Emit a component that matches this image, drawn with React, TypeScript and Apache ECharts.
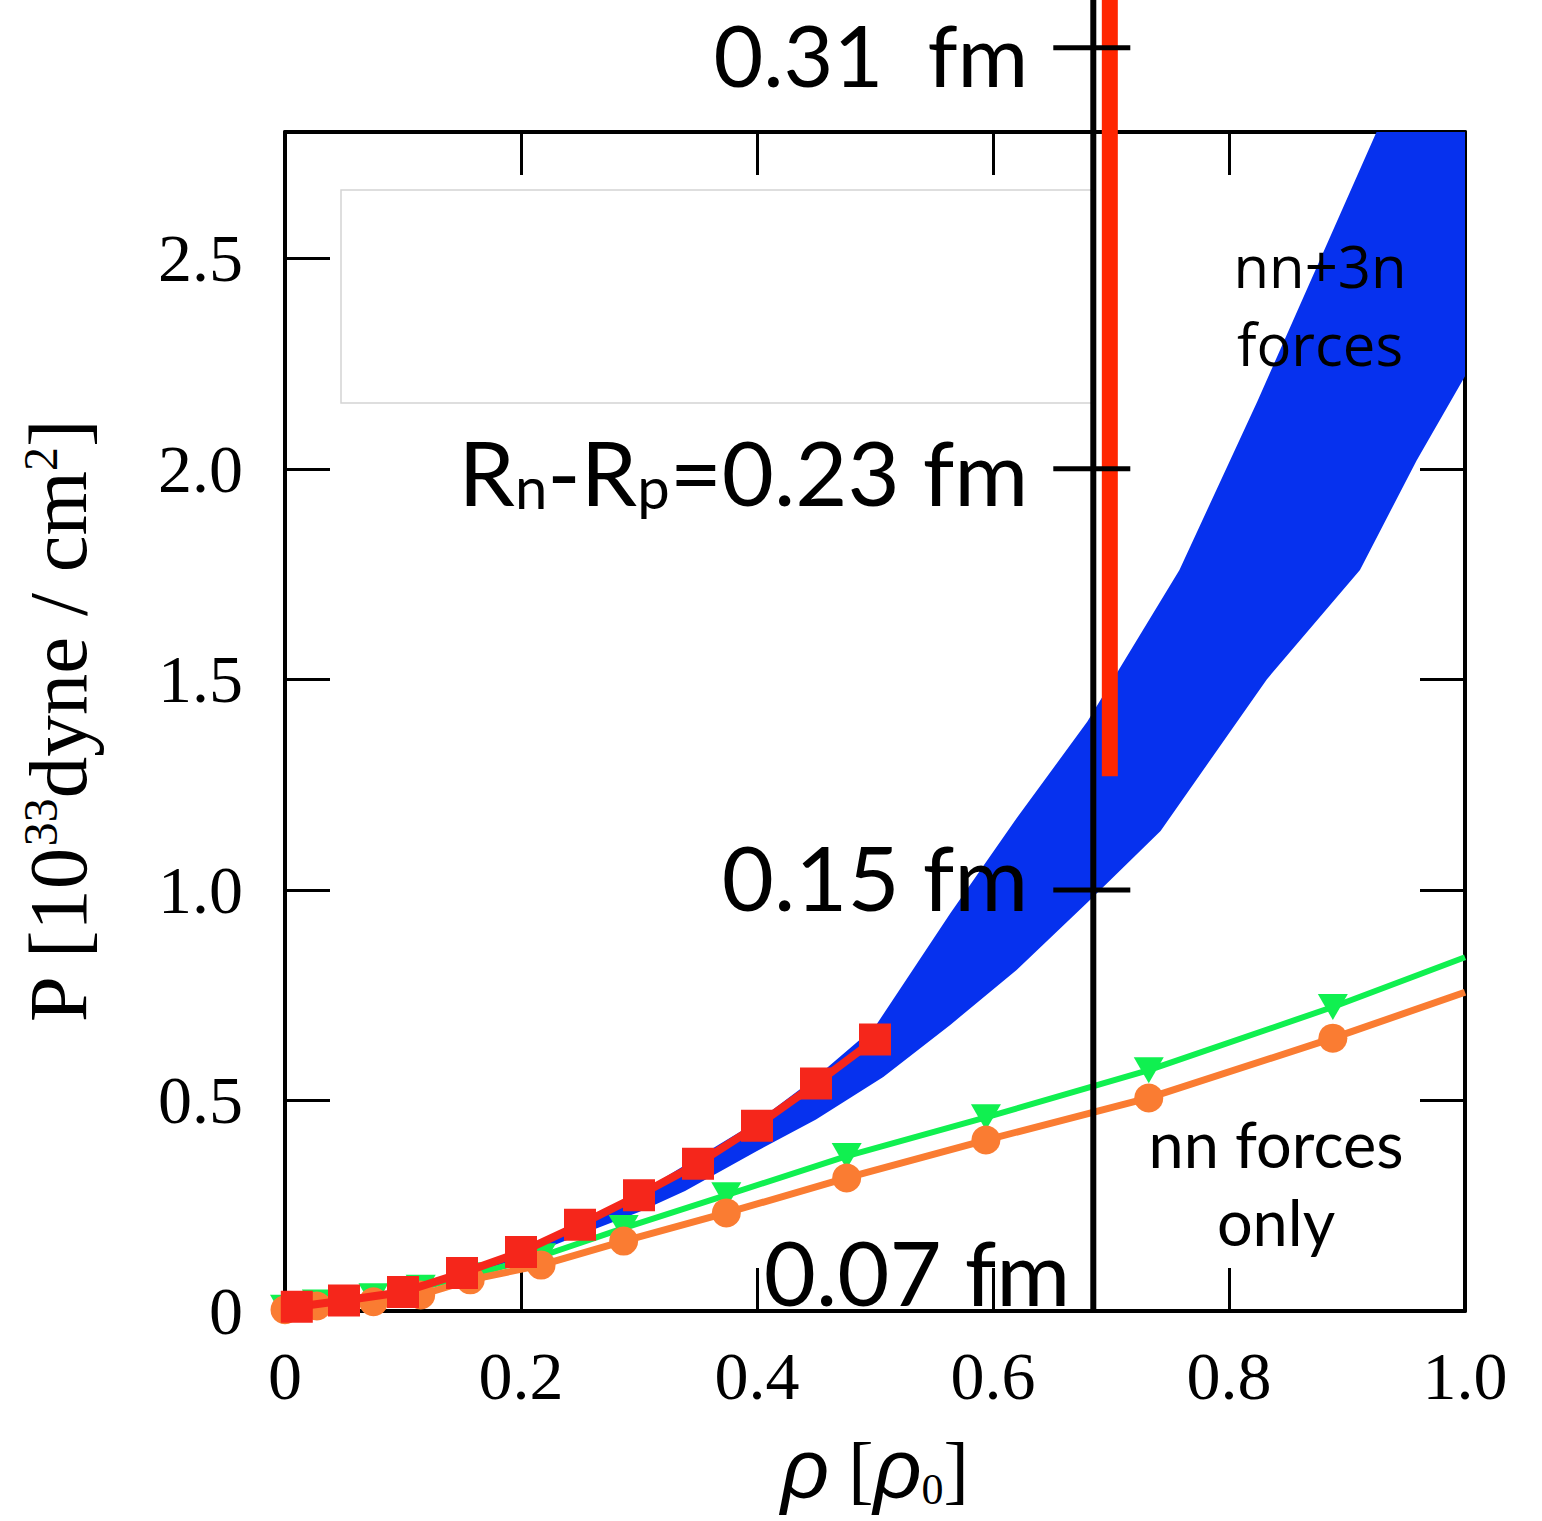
import React, { useEffect, useRef } from "react";
import * as echarts from "echarts";

// ---------- data ----------
const rhoTicks = [0, 0.2, 0.4, 0.6, 0.8, 1.0];
const pTicks = [0, 0.5, 1.0, 1.5, 2.0, 2.5];

// nn+3n band (chiral EFT uncertainty band)
const bandUpperRho = [0, 0.1, 0.2, 0.3, 0.4, 0.45, 0.5, 0.564, 0.62, 0.68, 0.758, 0.824, 0.925, 1.0];
const bandUpperP = [0, 0.045, 0.145, 0.28, 0.45, 0.555, 0.675, 0.945, 1.17, 1.4, 1.76, 2.16, 2.8, 3.27];
const bandLowerRho = [0, 0.1, 0.2, 0.254, 0.3, 0.339, 0.4, 0.45, 0.507, 0.564, 0.62, 0.68, 0.742, 0.832, 0.911, 0.959, 1.0];
const bandLowerP = [0, 0.04, 0.125, 0.185, 0.235, 0.285, 0.38, 0.455, 0.556, 0.68, 0.81, 0.97, 1.14, 1.5, 1.76, 2.02, 2.22];

// red squares
const redRho = [0.01, 0.05, 0.1, 0.15, 0.2, 0.25, 0.3, 0.35, 0.4, 0.45, 0.5];
const redP = [0.01, 0.025, 0.045, 0.09, 0.14, 0.205, 0.275, 0.35, 0.44, 0.54, 0.645];

// nn forces only (green triangles, orange circles)
const nnRho = [0.0, 0.027, 0.075, 0.115, 0.157, 0.217, 0.287, 0.374, 0.476, 0.594, 0.732, 0.888, 1.0];
const greenP = [0.008, 0.02, 0.035, 0.055, 0.085, 0.13, 0.197, 0.275, 0.368, 0.46, 0.572, 0.722, 0.84];
const orangeP = [0.003, 0.012, 0.022, 0.038, 0.074, 0.109, 0.166, 0.233, 0.316, 0.406, 0.506, 0.648, 0.757];

// Rn-Rp scale drawn on the vertical line
const scaleRho = 0.685;
const barRho = 0.699;
const barBottomP = 1.27;
const scaleTickP = [3, 2, 1];
const scaleTickLabels = ["0.31", "0.23", "0.15"];
const scaleBottomLabel = "0.07";

const BLUE = "#0631EE";
const RED = "#F5261B";
const ORANGE = "#FA7C32";
const GREEN = "#10F050";
const BAR = "#FF2600";

const near = (a: number[], v: number) => a.some((t) => Math.abs(t - v) < 1e-6);

export default function App() {
  const ref = useRef<HTMLDivElement>(null);
  useEffect(() => {
    if (!ref.current) return;
    const chart = echarts.init(ref.current, null, { renderer: "svg" });
    const last = nnRho.length - 1;
    const serifTick = { fontFamily: "Liberation Serif", fontSize: 68, color: "#000" };
    const labelFont = "Lato";

    const option: any = {
      animation: false,
      backgroundColor: "#fff",
      grid: { left: 285, top: 132, width: 1180, height: 1179, containLabel: false, outerBoundsMode: "none" },
      xAxis: [
        {
          type: "value", min: 0, max: 1, interval: 0.2, position: "bottom",
          axisLine: { show: true, onZero: false, lineStyle: { color: "#000", width: 4 } },
          axisTick: { show: true, inside: true, length: 43, lineStyle: { color: "#000", width: 3 } },
          axisLabel: {
            ...serifTick, margin: 31,
            formatter: (v: number) => (near(rhoTicks, v) ? (v === 0 ? "0" : v.toFixed(1)) : ""),
          },
          splitLine: { show: false },
          name: "{r|ρ} [{r|ρ}{s|0}]",
          nameLocation: "middle",
          nameGap: 116,
          nameTextStyle: {
            fontFamily: "Liberation Serif", fontSize: 76, color: "#000",
            rich: {
              r: { fontFamily: "Liberation Sans", fontStyle: "italic", fontSize: 84, color: "#000" },
              s: { fontFamily: "Liberation Serif", fontSize: 44, color: "#000", verticalAlign: "bottom" },
            },
          },
        },
        {
          type: "value", min: 0, max: 1, interval: 0.2, position: "top",
          axisLine: { show: true, onZero: false, lineStyle: { color: "#000", width: 4 } },
          axisTick: { show: true, inside: true, length: 43, lineStyle: { color: "#000", width: 3 } },
          axisLabel: { show: false },
          splitLine: { show: false },
        },
      ],
      yAxis: [
        {
          type: "value", min: 0, max: 2.8, interval: 0.5, position: "left",
          axisLine: { show: true, onZero: false, lineStyle: { color: "#000", width: 4 } },
          axisTick: { show: true, inside: true, length: 45, lineStyle: { color: "#000", width: 3 } },
          axisLabel: {
            ...serifTick, margin: 42,
            formatter: (v: number) => (near(pTicks, v) ? (v === 0 ? "0" : v.toFixed(1)) : ""),
          },
          splitLine: { show: false },
          name: "P [10{sup|33}dyne / cm{sup|2}]",
          nameLocation: "middle",
          nameRotate: 90,
          nameGap: 186,
          nameTextStyle: {
            fontFamily: "Liberation Serif", fontSize: 83, color: "#000",
            rich: {
              sup: { fontFamily: "Liberation Serif", fontSize: 48, color: "#000", verticalAlign: "top" },
            },
          },
        },
        {
          type: "value", min: 0, max: 2.8, interval: 0.5, position: "right",
          axisLine: { show: true, onZero: false, lineStyle: { color: "#000", width: 4 } },
          axisTick: { show: true, inside: true, length: 45, lineStyle: { color: "#000", width: 3 } },
          axisLabel: { show: false },
          splitLine: { show: false },
        },
      ],
      graphic: [
        {
          type: "rect", z: 1,
          shape: { x: 341, y: 190, width: 752, height: 213 },
          style: { fill: "none", stroke: "#d4d4d4", lineWidth: 1.5 },
        },
        {
          type: "text", z: 30, x: 1320, y: 304,
          style: {
            text: "nn+3n\nforces", fill: "#000", fontFamily: "Open Sans", fontSize: 58,
            align: "center", verticalAlign: "middle", lineHeight: 78,
          },
        },
        {
          type: "text", z: 30, x: 1276, y: 1182,
          style: {
            text: "nn forces\nonly", fill: "#000", fontFamily: labelFont, fontSize: 63,
            align: "center", verticalAlign: "middle", lineHeight: 78,
          },
        },
      ],
      series: [
        {
          type: "custom", name: "band", z: 1, clip: true,
          xAxisIndex: 0, yAxisIndex: 0,
          data: [[0, 0]],
          renderItem: (_p: any, api: any) => {
            const pts: number[][] = [];
            for (let i = 0; i < bandUpperRho.length; i++) pts.push(api.coord([bandUpperRho[i], bandUpperP[i]]));
            for (let i = bandLowerRho.length - 1; i >= 0; i--) pts.push(api.coord([bandLowerRho[i], bandLowerP[i]]));
            return { type: "polygon", shape: { points: pts }, style: { fill: BLUE } };
          },
        },
        {
          type: "line", name: "nn green", z: 3,
          data: nnRho.map((r, i) => ({ value: [r, greenP[i]], symbol: i === last ? "none" : "triangle" })),
          symbolRotate: 180, symbolSize: [30, 26],
          lineStyle: { color: GREEN, width: 6 }, itemStyle: { color: GREEN },
        },
        {
          type: "line", name: "nn orange", z: 4,
          data: nnRho.map((r, i) => ({ value: [r, orangeP[i]], symbol: i === last ? "none" : "circle" })),
          symbolSize: 29,
          lineStyle: { color: ORANGE, width: 7 }, itemStyle: { color: ORANGE },
        },
        {
          type: "line", name: "red", z: 5,
          data: redRho.map((r, i) => [r, redP[i]]),
          symbol: "rect", symbolSize: 32,
          lineStyle: { color: RED, width: 8 }, itemStyle: { color: RED },
        },
        {
          type: "custom", name: "scale", z: 20, clip: false,
          xAxisIndex: 0, yAxisIndex: 0,
          data: [[0, 0]],
          renderItem: (_p: any, api: any) => {
            const base = api.coord([scaleRho, 0]);
            const top = api.coord([scaleRho, 3.3]);
            const barB = api.coord([barRho, barBottomP]);
            const barT = api.coord([barRho, 3.3]);
            const x = base[0];
            const children: any[] = [
              { type: "line", shape: { x1: barB[0], y1: barB[1], x2: barT[0], y2: barT[1] }, style: { stroke: BAR, lineWidth: 16 } },
              { type: "line", shape: { x1: x, y1: base[1] + 2, x2: x, y2: top[1] }, style: { stroke: "#000", lineWidth: 6 } },
            ];
            scaleTickP.forEach((p, i) => {
              const c = api.coord([scaleRho, p]);
              children.push({ type: "line", shape: { x1: x - 40, y1: c[1], x2: x + 37, y2: c[1] }, style: { stroke: "#000", lineWidth: 5 } });
              const isMain = i === 1;
              const dy = i === 0 ? 6 : i === 2 ? -14 : 2;
              children.push({
                type: "text",
                style: {
                  x: x - 65, y: c[1] + dy,
                  text: isMain ? "R{s|n}-R{s|p}=" + scaleTickLabels[i] + " fm" : scaleTickLabels[i] + (i === 0 ? "  fm" : " fm"),
                  fill: "#000", fontFamily: labelFont, fontSize: i === 0 ? 86 : 90,
                  align: "right", verticalAlign: "middle",
                  rich: isMain ? { s: { fontFamily: labelFont, fontSize: 58, fill: "#000", verticalAlign: "bottom" } } : undefined,
                },
              });
            });
            children.push({
              type: "text",
              style: {
                x: x - 23, y: base[1] - 40,
                text: scaleBottomLabel + " fm",
                fill: "#000", fontFamily: labelFont, fontSize: 90,
                align: "right", verticalAlign: "middle",
              },
            });
            return { type: "group", children };
          },
        },
      ],
    };
    chart.setOption(option);
    return () => chart.dispose();
  }, []);
  return <div ref={ref} style={{ position: "absolute", left: 0, top: 0, width: 1542, height: 1521 }} />;
}
